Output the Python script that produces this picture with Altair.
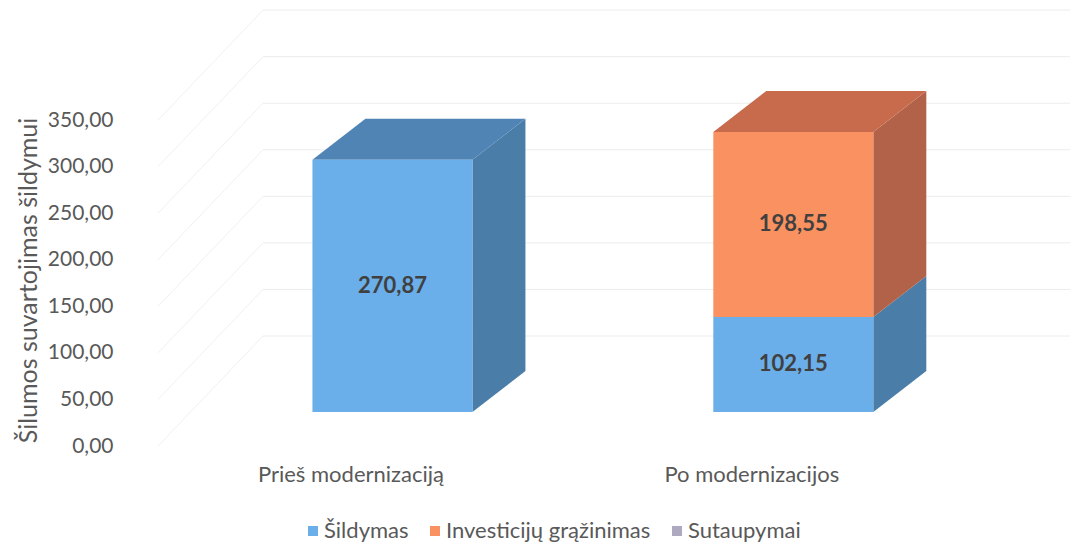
import altair as alt
import pandas as pd

# ---- data ----
categories = ["Prieš modernizaciją", "Po modernizacijos"]
series = ["Šildymas", "Investicijų grąžinimas", "Sutaupymai"]
sildymas = [270.87, 102.15]
investiciju_grazinimas = [0.0, 198.55]
sutaupymai = [0.0, 0.0]
y_ticks = [0, 50, 100, 150, 200, 250, 300, 350]
axis_title = "Šilumos suvartojimas šildymui"

# ---- styles ----
front_colors = ["#6aaeea", "#fa9160", "#aea8c0"]
side_colors = ["#4a7da8", "#b26248", "#8a85a0"]
top_colors = ["#4f84b5", "#c86a4c", "#9b96b0"]
FONT = "Lato"
GREY = "#595959"

# ---- layout (plot area and 3-D projection constants) ----
W, H = 920, 438
Y_MAX = 470.4
X_MIN, X_MAX = -0.5, 1.795
px_x = W / (X_MAX - X_MIN)
px_y = H / Y_MAX


def ux(p):
    return p / px_x


def uy(p):
    return p / px_y


BAR_HALF = ux(80)
BAR_SHIFT = ux(42)
BAR_LIFT = uy(34)
DEPTH_X = ux(53)
DEPTH_Y = uy(41)
WALL_START = X_MIN + ux(8)
WALL_X = ux(105)
WALL_Y = uy(110)

values = [sildymas, investiciju_grazinimas, sutaupymai]

fronts, sides, tops, labels = [], [], [], []
for ci, cat in enumerate(categories):
    base = 0.0
    segs = [(si, values[si][ci]) for si in range(len(series)) if values[si][ci] > 0]
    for k, (si, v) in enumerate(segs):
        y0 = base + BAR_LIFT
        y1 = base + v + BAR_LIFT
        xl = ci + BAR_SHIFT - BAR_HALF
        xr = ci + BAR_SHIFT + BAR_HALF
        fronts.append(dict(x=xl, x2=xr, y=y0, y2=y1, series=series[si]))
        labels.append(dict(x=ci + BAR_SHIFT, y=(y0 + y1) / 2,
                           txt=f"{v:.2f}".replace(".", ",")))
        pid = f"s{ci}_{si}"
        sides.append(dict(poly=pid, x=xr, y=y0, y2=y1, col=side_colors[si]))
        sides.append(dict(poly=pid, x=xr + DEPTH_X, y=y0 + DEPTH_Y, y2=y1 + DEPTH_Y,
                          col=side_colors[si]))
        if k == len(segs) - 1:
            tid = f"t{ci}_{si}"
            for px_, lo, hi in [(xl, y1, y1), (xl + DEPTH_X, y1, y1 + DEPTH_Y),
                                (xr, y1, y1 + DEPTH_Y), (xr + DEPTH_X, y1 + DEPTH_Y, y1 + DEPTH_Y)]:
                tops.append(dict(poly=tid, x=px_, y=lo, y2=hi, col=top_colors[si]))
        base += v

grid_back = pd.DataFrame([dict(x=WALL_START + WALL_X, x2=X_MAX, y=t + WALL_Y, y2=t + WALL_Y)
                          for t in y_ticks])
grid_side = pd.DataFrame([dict(x=WALL_START, x2=WALL_START + WALL_X, y=t, y2=t + WALL_Y)
                          for t in y_ticks])

xscale = alt.Scale(domain=[X_MIN, X_MAX], nice=False, zero=False)
yscale = alt.Scale(domain=[0, Y_MAX], nice=False, zero=False)

label_expr = " : ".join(
    [f"datum.value == {i} ? '{c}'" for i, c in enumerate(categories)]) + " : ''"

x_axis = alt.Axis(values=list(range(len(categories))), labelExpr=label_expr,
                  domain=False, ticks=False, grid=False, labelPadding=18,
                  labelFontSize=22, labelColor=GREY, labelFont=FONT, title=None,
                  labelOverlap=False, labelLimit=500)
y_axis = alt.Axis(values=y_ticks,
                  labelExpr="replace(format(datum.value, '.2f'), '.', ',')",
                  domain=False, ticks=False, grid=False, labelPadding=37,
                  labelFontSize=21, labelColor=GREY, labelFont=FONT,
                  title=axis_title, titleFontSize=25, titleFontWeight="normal",
                  titleColor=GREY, titleFont=FONT, titleAngle=270,
                  titleX=-122, titleY=272, titleAlign="center", titleBaseline="middle")


def X(field="x"):
    return alt.X(f"{field}:Q", scale=xscale, axis=x_axis)


def Y(field="y"):
    return alt.Y(f"{field}:Q", scale=yscale, axis=y_axis, stack=None)


back = alt.Chart(grid_back).mark_rule(color="#ececec", strokeWidth=1).encode(
    x=X(), x2="x2:Q", y=Y(), y2="y2:Q")
side_lines = alt.Chart(grid_side).mark_rule(color="#f0f0f0", strokeWidth=1).encode(
    x=X(), x2="x2:Q", y=Y(), y2="y2:Q")

side_layer = alt.Chart(pd.DataFrame(sides)).mark_area(opacity=1).encode(
    x=X(), y=Y(), y2="y2:Q", detail="poly:N",
    fill=alt.Fill("col:N", scale=None))
top_layer = alt.Chart(pd.DataFrame(tops)).mark_area(opacity=1).encode(
    x=X(), y=Y(), y2="y2:Q", detail="poly:N",
    fill=alt.Fill("col:N", scale=None))

front_layer = alt.Chart(pd.DataFrame(fronts)).mark_rect().encode(
    x=X(), x2="x2:Q", y=Y(), y2="y2:Q",
    color=alt.Color("series:N",
                    scale=alt.Scale(domain=series, range=front_colors),
                    legend=alt.Legend(title=None, orient="none", legendX=152, legendY=512,
                                      direction="horizontal", symbolType="square",
                                      symbolSize=100, symbolStrokeWidth=0,
                                      labelFontSize=22, labelColor=GREY, labelFont=FONT,
                                      labelOffset=0, columnPadding=15, padding=0,
                                      labelLimit=500)))

text_layer = alt.Chart(pd.DataFrame(labels)).mark_text(
    font=FONT, fontSize=22, fontWeight="bold", color="#404040").encode(
    x=X(), y=Y(), text="txt:N")

chart = alt.layer(side_lines, back, side_layer, top_layer, front_layer, text_layer).properties(
    width=W, height=H, autosize="none",
    padding={"left": 142, "top": 0, "right": 0, "bottom": 100},
    background="white",
).configure_view(stroke=None)

chart.save("out.html", embed_options={"renderer": "svg", "actions": False})
